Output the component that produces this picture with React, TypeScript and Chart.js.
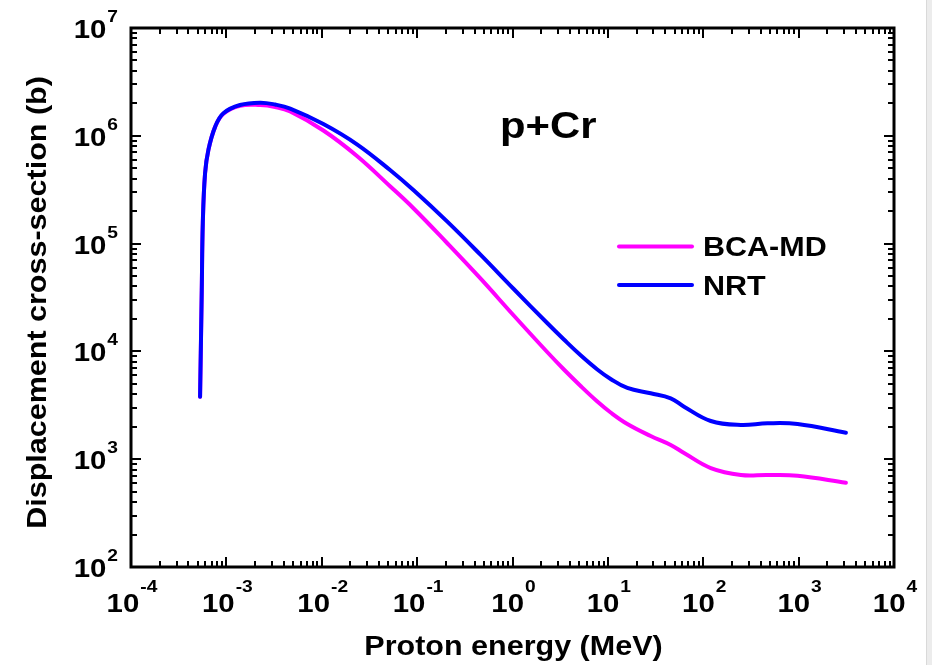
import React, { useEffect, useRef } from "react";
import { Chart, registerables } from "chart.js";

Chart.register(...registerables);

// ---- data ----
const energyMeV = [
  5.3e-4, 5.52e-4, 5.66e-4, 5.98e-4, 6.48e-4, 7.62e-4, 9.31e-4, 1.39e-3, 2.26e-3, 3.25e-3,
  4.67e-3, 0.0104, 0.0234, 0.0524, 0.092, 0.206, 0.461, 1.03, 2.31, 3.46, 5.18,
  7.75, 10.69, 16.0, 28.1, 45.6, 62.9, 120, 248, 472, 975, 3134,
];
const nrtValues = [
  3800, 37000, 155000, 450000, 740000, 1.21e6, 1.62e6, 1.93e6, 2.03e6, 1.95e6,
  1.79e6, 1.287e6, 8.34e5, 4.79e5, 3.122e5, 1.606e5, 7.89e4, 3.79e4, 1.834e4, 1.289e4, 9200,
  6794, 5546, 4577, 4086, 3672, 3069, 2262, 2077, 2153, 2121, 1762,
];
const bcaMdValues = [
  3800, 37000, 155000, 450000, 740000, 1.21e6, 1.6e6, 1.9e6, 1.93e6, 1.85e6,
  1.68e6, 1.12e6, 6.5e5, 3.385e5, 2.117e5, 1.013e5, 4.75e4, 2.153e4, 9871, 6794, 4776,
  3429, 2712, 2121, 1641, 1354, 1142, 828, 714, 714, 703, 605,
];
const seriesLabels = ["BCA-MD", "NRT"];
const seriesColors = ["#ff00ff", "#0000ff"];
const xTickExponents = [-4, -3, -2, -1, 0, 1, 2, 3, 4];
const yTickExponents = [2, 3, 4, 5, 6, 7];
const xAxisTitle = "Proton energy (MeV)";
const yAxisTitle = "Displacement cross-section (b)";
const annotationText = "p+Cr";

const FONT = '"Liberation Sans", Arial, sans-serif';
const STRETCH = 1.13;

function textWidth(ctx: CanvasRenderingContext2D, text: string, size: number) {
  ctx.save();
  ctx.font = `bold ${size}px ${FONT}`;
  const w = ctx.measureText(text).width * STRETCH;
  ctx.restore();
  return w;
}

function drawText(
  ctx: CanvasRenderingContext2D,
  text: string,
  x: number,
  y: number,
  size: number,
  align: CanvasTextAlign,
  rotate = 0
) {
  ctx.save();
  ctx.font = `bold ${size}px ${FONT}`;
  ctx.fillStyle = "#000";
  ctx.translate(x, y);
  if (rotate) ctx.rotate(rotate);
  ctx.scale(STRETCH, 1);
  ctx.textAlign = align;
  ctx.textBaseline = "alphabetic";
  ctx.fillText(text, 0, 0);
  ctx.restore();
}

const BASE = 26;
const EXP = 17;

function drawPower(
  ctx: CanvasRenderingContext2D,
  exp: number,
  xLeft: number,
  baseline: number,
  expBaseline: number
) {
  const w1 = textWidth(ctx, "10", BASE);
  drawText(ctx, "10", xLeft, baseline, BASE, "left");
  drawText(ctx, String(exp), xLeft + w1 + 1, expBaseline, EXP, "left");
}

function powerWidth(ctx: CanvasRenderingContext2D, exp: number) {
  return textWidth(ctx, "10", BASE) + 1 + textWidth(ctx, String(exp), EXP);
}

const decorPlugin = {
  id: "decor",
  afterDraw(chart: any) {
    const ctx: CanvasRenderingContext2D = chart.ctx;
    const xs = chart.scales.x;
    const ys = chart.scales.y;
    const { left, right, top, bottom } = chart.chartArea;

    ctx.save();
    ctx.strokeStyle = "#000";
    ctx.lineCap = "butt";
    ctx.lineWidth = 2;
    for (let i = 0; i < xTickExponents.length; i++) {
      const e = xTickExponents[i];
      const kmax = i === xTickExponents.length - 1 ? 1 : 9;
      for (let k = 1; k <= kmax; k++) {
        const px = Math.round(xs.getPixelForValue(k * Math.pow(10, e)));
        const len = k === 1 ? 10 : 6;
        ctx.beginPath();
        ctx.moveTo(px, bottom);
        ctx.lineTo(px, bottom - len);
        ctx.moveTo(px, top);
        ctx.lineTo(px, top + len);
        ctx.stroke();
      }
    }
    for (let i = 0; i < yTickExponents.length; i++) {
      const e = yTickExponents[i];
      const kmax = i === yTickExponents.length - 1 ? 1 : 9;
      for (let k = 1; k <= kmax; k++) {
        const py = Math.round(ys.getPixelForValue(k * Math.pow(10, e)));
        const len = k === 1 ? 10 : 6;
        ctx.beginPath();
        ctx.moveTo(left, py);
        ctx.lineTo(left + len, py);
        ctx.moveTo(right, py);
        ctx.lineTo(right - len, py);
        ctx.stroke();
      }
    }
    ctx.lineWidth = 3;
    ctx.strokeRect(left, top, right - left, bottom - top);
    ctx.restore();

    for (const e of xTickExponents) {
      const px = xs.getPixelForValue(Math.pow(10, e));
      const w = powerWidth(ctx, e);
      drawPower(ctx, e, px - w / 2 + 1, bottom + 45, bottom + 25);
    }
    for (const e of yTickExponents) {
      const py = ys.getPixelForValue(Math.pow(10, e));
      const w = powerWidth(ctx, e);
      drawPower(ctx, e, left - 13 - w, py + 10, py - 6);
    }

    drawText(ctx, xAxisTitle, (left + right) / 2 + 1, 655, 27, "center");
    drawText(ctx, yAxisTitle, 46, (top + bottom) / 2 + 5, 27, "center", -Math.PI / 2);

    drawText(ctx, annotationText, 500, 138, 37, "left");

    const legendY = [246.5, 285];
    for (let i = 0; i < seriesLabels.length; i++) {
      ctx.save();
      ctx.strokeStyle = seriesColors[i];
      ctx.lineWidth = 4;
      ctx.lineCap = "round";
      ctx.beginPath();
      ctx.moveTo(619, legendY[i]);
      ctx.lineTo(692, legendY[i]);
      ctx.stroke();
      ctx.restore();
      drawText(ctx, seriesLabels[i], 703, legendY[i] + 9.5, 27, "left");
    }
  },
};

export default function App() {
  const canvasRef = useRef<HTMLCanvasElement | null>(null);

  useEffect(() => {
    const canvas = canvasRef.current;
    if (!canvas) return;
    const mk = (i: number, values: number[], order: number) => ({
      label: seriesLabels[i],
      data: energyMeV.map((x, j) => ({ x, y: values[j] })),
      borderColor: seriesColors[i],
      borderWidth: 4,
      pointRadius: 0,
      tension: 0.4,
      borderCapStyle: "round",
      borderJoinStyle: "round",
      fill: false,
      order,
    });
    const chart = new Chart(canvas, {
      type: "line",
      data: {
        datasets: [mk(0, bcaMdValues, 1), mk(1, nrtValues, 0)],
      },
      options: {
        responsive: false,
        animation: false,
        devicePixelRatio: 1,
        layout: { padding: { left: 131, right: 932 - 894, top: 28, bottom: 665 - 567 } },
        plugins: { legend: { display: false }, tooltip: { enabled: false } },
        scales: {
          x: { type: "logarithmic", min: 1e-4, max: 1e4, display: false },
          y: { type: "logarithmic", min: 1e2, max: 1e7, display: false },
        },
        elements: { point: { radius: 0 } },
      },
      plugins: [decorPlugin],
    } as any);
    return () => chart.destroy();
  }, []);

  return (
    <div
      style={{
        position: "absolute",
        left: 0,
        top: 0,
        width: 932,
        height: 665,
        background: "#fff",
        overflow: "hidden",
      }}
    >
      <canvas ref={canvasRef} width={932} height={665} style={{ display: "block" }} />
      <div
        style={{
          position: "absolute",
          left: 926,
          top: 0,
          width: 6,
          height: 665,
          background: "#ececec",
          borderLeft: "1px solid #d9d9d9",
          boxSizing: "border-box",
        }}
      />
    </div>
  );
}
